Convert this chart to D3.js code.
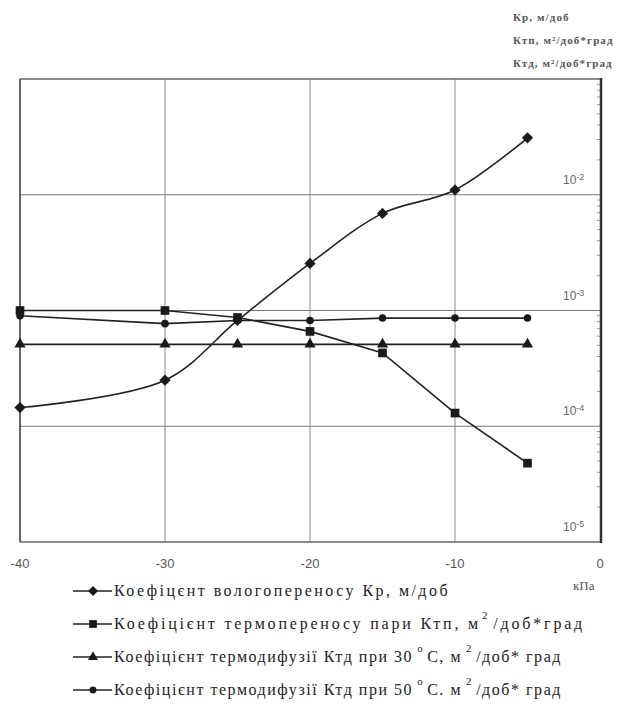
<!DOCTYPE html>
<html lang="uk">
<head>
    <meta charset="UTF-8">
    <title>Коефіцієнти переносу</title>
    <script src="https://d3js.org/d3.v7.min.js"></script>
    <style>
        body {
            margin: 0;
            background: #fff;
        }
        svg {
            display: block;
        }
    </style>
</head>
<body>
    <svg id="chart" width="623" height="704"></svg>

    <script>
        // Data
        const pressure = [-40, -30, -25, -20, -15, -10, -5];
        const kp = [1.45e-4, 2.5e-4, 8.2e-4, 2.55e-3, 6.9e-3, 1.1e-2, 3.1e-2];
        const ktp = [1.0e-3, 1.0e-3, 8.7e-4, 6.6e-4, 4.3e-4, 1.3e-4, 4.8e-5];
        const ktd30 = [5.1e-4, 5.1e-4, 5.1e-4, 5.1e-4, 5.1e-4, 5.1e-4, 5.1e-4];
        const ktd50 = [9.0e-4, 7.7e-4, 8.2e-4, 8.2e-4, 8.6e-4, 8.6e-4, 8.6e-4];

        const xTicks = [-40, -30, -20, -10, 0];
        const xGrid = [-30, -20, -10];
        const yDecades = [1e-2, 1e-3, 1e-4, 1e-5];
        const yExponents = ["-2", "-3", "-4", "-5"];

        const unitLabels = ["Кр, м/доб", "Ктп, м²/доб*град", "Ктд, м²/доб*град"];

        // legend text split in pieces: [text, superscript gap or null]
        const legendItems = [
            {symbol: "diamond", parts: [["Коефіцєнт вологопереносу Кр, м/доб", null]]},
            {symbol: "square", parts: [["Коефіцієнт термопереносу пари Ктп, м", null], ["2", 1], ["/доб*град", null]]},
            {symbol: "triangle", parts: [["Коефіцієнт термодифузії Ктд при 30", null], ["o", 4], ["С, м", null], ["2", 4], ["/доб* град", null]]},
            {symbol: "circle", parts: [["Коефіцієнт термодифузії Ктд при 50", null], ["o", 4], ["С. м", null], ["2", 4], ["/доб* град", null]]}
        ];
        const legendEnds = [450, 585, 562, 562];

        const SERIF = "'Liberation Serif', 'DejaVu Serif', serif";
        const SANS = "'Liberation Sans', Arial, sans-serif";

        const plot = {left: 20, right: 600, top: 79, bottom: 542};

        const svg = d3.select("#chart");

        const x = d3.scaleLinear().domain([-40, 0]).range([plot.left, plot.right]);
        const y = d3.scaleLog().domain([1e-5, 1e-1]).range([plot.bottom, plot.top]);

        // grid
        svg.append("g")
            .selectAll("line")
            .data(xGrid)
            .join("line")
            .attr("x1", d => x(d)).attr("x2", d => x(d))
            .attr("y1", plot.top).attr("y2", plot.bottom)
            .attr("stroke", "#8a8a8a")
            .attr("stroke-width", 1);

        svg.append("g")
            .selectAll("line")
            .data(yDecades.slice(0, 3))
            .join("line")
            .attr("x1", plot.left).attr("x2", plot.right)
            .attr("y1", d => y(d)).attr("y2", d => y(d))
            .attr("stroke", "#777")
            .attr("stroke-width", 1.2);

        // minor ticks on the right frame
        const minor = [];
        for (let e = -5; e < -1; e++) {
            for (let m = 2; m <= 9; m++) minor.push(m * Math.pow(10, e));
        }
        svg.append("g")
            .selectAll("line")
            .data(minor)
            .join("line")
            .attr("x1", plot.right - 3).attr("x2", plot.right)
            .attr("y1", d => y(d)).attr("y2", d => y(d))
            .attr("stroke", "#999")
            .attr("stroke-width", 1);

        // frame
        svg.append("line")
            .attr("x1", plot.left).attr("x2", plot.right)
            .attr("y1", plot.top).attr("y2", plot.top)
            .attr("stroke", "#666").attr("stroke-width", 1.5);
        svg.append("line")
            .attr("x1", plot.left).attr("x2", plot.right)
            .attr("y1", plot.bottom).attr("y2", plot.bottom)
            .attr("stroke", "#666").attr("stroke-width", 1.5);
        svg.append("line")
            .attr("x1", plot.left).attr("x2", plot.left)
            .attr("y1", plot.top).attr("y2", plot.bottom)
            .attr("stroke", "#333").attr("stroke-width", 1.5);
        svg.append("line")
            .attr("x1", plot.right + 1).attr("x2", plot.right + 1)
            .attr("y1", plot.top - 1).attr("y2", plot.bottom + 1)
            .attr("stroke", "#333").attr("stroke-width", 2.5);

        // y labels inside the plot, right side
        const yLab = svg.append("g")
            .selectAll("text")
            .data(yDecades)
            .join("text")
            .attr("x", 563)
            .attr("y", d => y(d) - 11)
            .style("font-family", SANS)
            .attr("fill", "#666")
            .attr("font-size", 12);
        yLab.append("tspan").text("10");
        yLab.append("tspan")
            .attr("dy", -4)
            .attr("font-size", 9)
            .text((d, i) => yExponents[i]);

        // x tick labels
        svg.append("g")
            .selectAll("text")
            .data(xTicks)
            .join("text")
            .attr("x", d => x(d))
            .attr("y", 568)
            .attr("text-anchor", "middle")
            .style("font-family", SANS)
            .attr("fill", "#555")
            .attr("font-size", 13)
            .text(d => d);

        svg.append("text")
            .attr("x", 573).attr("y", 590)
            .style("font-family", SERIF)
            .attr("fill", "#555")
            .attr("font-size", 13)
            .text("кПа");

        // unit labels top right
        svg.append("g")
            .selectAll("text")
            .data(unitLabels)
            .join("text")
            .attr("x", 513)
            .attr("y", (d, i) => 21 + i * 23)
            .style("font-family", SERIF)
            .attr("fill", "#555")
            .attr("font-size", 11)
            .attr("font-weight", "bold")
            .attr("letter-spacing", 1.1)
            .text(d => d);

        // series
        const series = [
            {values: kp, symbol: "diamond", curve: d3.curveCatmullRom},
            {values: ktp, symbol: "square", curve: d3.curveLinear},
            {values: ktd30, symbol: "triangle", curve: d3.curveLinear},
            {values: ktd50, symbol: "circle", curve: d3.curveLinear}
        ];

        const symbolType = {
            diamond: d3.symbolDiamond2,
            square: d3.symbolSquare,
            triangle: d3.symbolTriangle,
            circle: d3.symbolCircle
        };
        const symbolSize = {diamond: 80, square: 75, triangle: 55, circle: 45};

        series.forEach(s => {
            const pts = pressure.map((p, i) => [p, s.values[i]]);
            const line = d3.line()
                .x(d => x(d[0]))
                .y(d => y(d[1]))
                .curve(s.curve);

            svg.append("path")
                .datum(pts)
                .attr("d", line)
                .attr("fill", "none")
                .attr("stroke", "#222")
                .attr("stroke-width", 1.6);

            svg.append("g")
                .selectAll("path")
                .data(pts)
                .join("path")
                .attr("transform", d => `translate(${x(d[0])},${y(d[1])})`)
                .attr("d", d3.symbol().type(symbolType[s.symbol]).size(symbolSize[s.symbol]))
                .attr("fill", "#1a1a1a");
        });

        // legend
        const legend = svg.append("g");
        legendItems.forEach((item, i) => {
            const cy = 591 + i * 33;
            const g = legend.append("g");
            g.append("line")
                .attr("x1", 73).attr("x2", 112)
                .attr("y1", cy).attr("y2", cy)
                .attr("stroke", "#222").attr("stroke-width", 1.6);
            g.append("path")
                .attr("transform", `translate(93,${cy})`)
                .attr("d", d3.symbol().type(symbolType[item.symbol]).size(symbolSize[item.symbol] * 0.8))
                .attr("fill", "#1a1a1a");
            const t = g.append("text")
                .attr("x", 114)
                .attr("y", cy + 5)
                .style("font-family", SERIF)
                .attr("fill", "#222")
                .attr("font-size", 16);
            let raised = false;
            item.parts.forEach(p => {
                const span = t.append("tspan").text(p[0]);
                if (p[1] !== null) {
                    span.attr("dy", -10).attr("font-size", 11).attr("dx", p[1]);
                    raised = true;
                } else if (raised) {
                    span.attr("dy", 10).attr("dx", 3);
                    raised = false;
                }
            });
            // stretch letter spacing so the line ends where the original does
            const chars = item.parts.reduce((n, p) => n + p[0].length, 0);
            let spacing = 0;
            for (let k = 0; k < 3; k++) {
                const w = t.node().getBBox().width;
                spacing += (legendEnds[i] - 114 - w) / chars;
                t.attr("letter-spacing", Math.max(0, spacing).toFixed(2));
            }
        });
    </script>
</body>
</html>
